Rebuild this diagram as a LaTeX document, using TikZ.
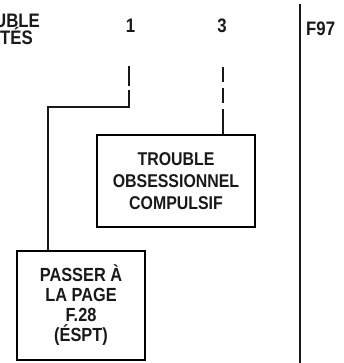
\documentclass[tikz,border=0pt]{standalone}
\usepackage{fontspec}
\setmainfont{Liberation Sans}[FakeStretch=0.86]
\begin{document}
\begin{tikzpicture}[x=1pt,y=-1pt,
  lbl/.style={font=\fontsize{19.5}{21}\selectfont\bfseries, inner sep=0pt, text=black!90},
  boxa/.style={draw, line width=1.8pt, align=center, inner sep=0pt, text=black!90},
  conn/.style={line width=1.5pt, black!90}]
\useasboundingbox (0,0) rectangle (344,363);
\node[lbl, anchor=base east] (t1) at (40,28) {UBLE};
\node[lbl, anchor=base east] (t2) at (33,45) {TÉS};
\node[lbl, anchor=base] (h1) at (130.5,33) {1};
\node[lbl, anchor=base] (h3) at (222,33) {3};
\node[lbl, anchor=base west] (f97) at (306,36) {F97};
\node[boxa, font=\fontsize{18.5}{22}\selectfont\bfseries, minimum width=158, minimum height=92] (ocd) at (176,181) {TROUBLE\\OBSESSIONNEL\\COMPULSIF};
\node[boxa, font=\fontsize{19}{20}\selectfont\bfseries, minimum width=128, minimum height=109] (passer) at (81,305.5) {PASSER À\\LA PAGE\\F.28\\(ÉSPT)};
\coordinate (a1) at (129,66);
\coordinate (k1) at (129,107);
\coordinate (k2) at (48,107);
\draw[conn, dash pattern=on 20pt off 4pt on 400pt off 0pt] (a1) -- (k1) -- (k2) -- (k2 |- passer.north);
\coordinate (a3) at (223,67);
\draw[conn, dash pattern=on 15pt off 6pt on 15pt off 6pt on 100pt off 0pt] (a3) -- (a3 |- ocd.north);
\coordinate (v1) at (300,4);
\coordinate (v2) at (300,363);
\draw[conn] (v1) -- (v2);
\end{tikzpicture}
\end{document}
